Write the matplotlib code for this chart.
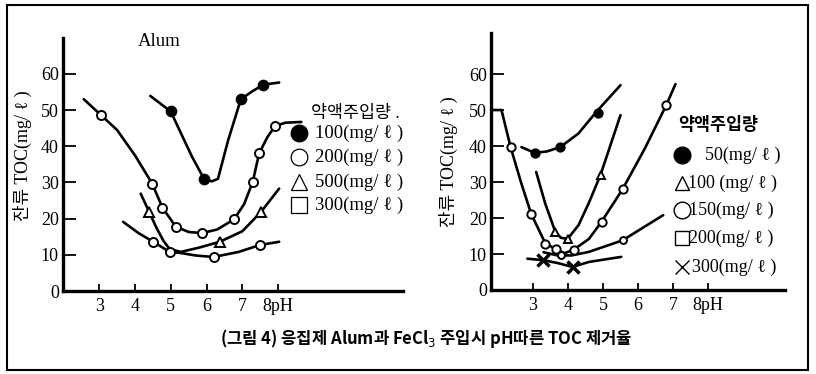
import matplotlib
matplotlib.use("Agg")
import matplotlib.pyplot as plt
from matplotlib.lines import Line2D
from matplotlib.patches import Rectangle

plt.rcParams['font.family'] = ['Liberation Serif', 'Noto Sans CJK KR', 'DejaVu Sans']

# ---------------- data: Alum ----------------
alum_100_line_ph = [4.43, 5.0, 5.28, 5.6, 5.93, 6.15, 6.32, 6.6, 6.96, 7.3, 7.59, 8.03]
alum_100_line_toc = [53.9, 49.6, 43.7, 37.0, 31.0, 30.3, 31.0, 41.5, 53.0, 55.3, 57.0, 57.6]
alum_100_pts_ph = [5.0, 5.93, 6.96, 7.59]
alum_100_pts_toc = [49.6, 31.0, 53.0, 57.0]

alum_200_line_ph = [2.57, 3.04, 3.5, 4.0, 4.48, 4.77, 5.14, 5.5, 5.88, 6.3, 6.77, 7.05, 7.29, 7.47, 7.7, 7.91, 8.2, 8.65]
alum_200_line_toc = [53.0, 48.7, 44.5, 37.5, 29.7, 23.0, 17.8, 16.3, 16.0, 17.0, 19.8, 24.0, 30.1, 38.0, 42.5, 45.5, 46.5, 46.7]
alum_200_pts_ph = [3.04, 4.48, 4.77, 5.14, 5.88, 6.77, 7.29, 7.47, 7.91]
alum_200_pts_toc = [48.7, 29.7, 23.0, 17.8, 16.0, 19.8, 30.1, 38.0, 45.5]

alum_500_line_ph = [4.16, 4.40, 4.6, 4.8, 4.97, 5.28, 5.8, 6.37, 7.0, 7.51, 8.03]
alum_500_line_toc = [26.9, 21.8, 17.5, 13.8, 11.6, 10.8, 12.0, 13.6, 16.5, 21.7, 28.3]
alum_500_pts_ph = [4.40, 6.37, 7.51]
alum_500_pts_toc = [21.8, 13.6, 21.7]

alum_300_line_ph = [3.67, 4.1, 4.51, 4.97, 5.28, 5.7, 6.2, 6.9, 7.49, 8.03]
alum_300_line_toc = [19.1, 16.0, 13.6, 10.8, 10.5, 9.8, 9.4, 10.8, 12.7, 13.6]
alum_300_pts_ph = [4.51, 4.97, 6.2, 7.49]
alum_300_pts_toc = [13.6, 10.8, 9.4, 12.7]

# ---------------- data: FeCl3 ----------------
fe_50_line_ph = [2.67, 3.05, 3.4, 3.78, 4.3, 4.81, 5.5]
fe_50_line_toc = [39.7, 38.1, 38.5, 39.7, 43.5, 49.5, 56.9]
fe_50_pts_ph = [3.05, 3.78, 4.85]
fe_50_pts_toc = [38.1, 39.7, 49.2]

fe_100_line_ph = [3.09, 3.35, 3.64, 3.8, 3.99, 4.3, 4.6, 4.93, 5.5]
fe_100_line_toc = [32.8, 24.0, 16.1, 14.5, 14.2, 18.0, 24.3, 32.0, 48.6]
fe_100_pts_ph = [3.64, 3.99, 4.93]
fe_100_pts_toc = [16.1, 14.2, 32.0]

fe_150_line_ph = [1.82, 2.1, 2.36, 2.67, 2.95, 3.35, 3.66, 3.9, 4.16, 4.6, 4.96, 5.56, 6.2, 6.81, 7.07]
fe_150_line_toc = [50.0, 50.0, 39.7, 29.5, 21.1, 13.0, 11.3, 10.2, 11.2, 14.2, 19.0, 28.0, 39.4, 51.4, 57.2]
fe_150_pts_ph = [2.36, 2.95, 3.35, 3.66, 4.16, 4.96, 5.56, 6.81]
fe_150_pts_toc = [39.7, 21.1, 12.8, 11.5, 11.2, 19.0, 28.0, 51.4]

fe_200_line_ph = [3.3, 3.7, 4.1, 4.6, 5.56, 6.72]
fe_200_line_toc = [10.5, 9.6, 9.6, 10.6, 13.8, 20.8]
fe_200_pts_ph = [3.8, 5.56]
fe_200_pts_toc = [9.6, 13.8]

fe_300_line_ph = [2.84, 3.28, 3.7, 4.13, 4.6, 5.52]
fe_300_line_toc = [8.7, 8.3, 7.5, 6.4, 7.8, 9.2]
fe_300_pts_ph = [3.28, 4.13]
fe_300_pts_toc = [8.3, 6.4]

y_ticks = [0, 10, 20, 30, 40, 50, 60]
x_ticks = [3, 4, 5, 6, 7, 8]
x_ticklabels = ['3', '4', '5', '6', '7', '8pH']
ylabel = '잔류 TOC(mg/ ℓ )'
alum_legend = ['100(mg/ ℓ )', '200(mg/ ℓ )', '500(mg/ ℓ )', '300(mg/ ℓ )']
fe_legend = ['50(mg/ ℓ )', '100 (mg/ ℓ )', '150(mg/ ℓ )', '200(mg/ ℓ )', '300(mg/ ℓ )']
caption = '(그림 4) 응집제 Alum과 FeCl$_3$ 주입시 pH따른 TOC 제거율'

W, H = 816, 374
fig = plt.figure(figsize=(W / 100, H / 100), dpi=100)

def fx(px):
    return px / W

def fy(py):
    return 1 - py / H

LW = 1.9
MS = 6.5

def style_axes(ax, xlim, ylim):
    ax.set_xlim(*xlim)
    ax.set_ylim(*ylim)
    for s in ['top', 'right']:
        ax.spines[s].set_visible(False)
    for s in ['left', 'bottom']:
        ax.spines[s].set_linewidth(2.4)
    ax.set_yticks(y_ticks)
    ax.set_yticklabels([str(v) for v in y_ticks])
    ax.set_xticks(x_ticks)
    ax.set_xticklabels(x_ticklabels)
    ax.tick_params(axis='y', direction='in', length=9, width=1.3, labelsize=13, pad=3)
    ax.tick_params(axis='x', direction='in', length=5, width=1.3, labelsize=13, pad=5)
    ax.patch.set_alpha(0)

def series(ax, lx, ly, px, py, marker, fill, ms=MS, mew=1.4):
    ax.plot(lx, ly, color='black', lw=LW, solid_capstyle='round',
            solid_joinstyle='round', zorder=2)
    ax.plot(px, py, linestyle='none', marker=marker, ms=ms,
            mfc='black' if fill else 'white', mec='black', mew=mew, zorder=3)

# ---------- Left: Alum ----------
axL = fig.add_axes([fx(63), fy(291), fx(403) - fx(63), fy(38) - fy(291)])
style_axes(axL, (1.99, 11.49), (0, 69.9))
series(axL, alum_100_line_ph, alum_100_line_toc, alum_100_pts_ph, alum_100_pts_toc, 'o', True, ms=7)
series(axL, alum_200_line_ph, alum_200_line_toc, alum_200_pts_ph, alum_200_pts_toc, 'o', False)
series(axL, alum_500_line_ph, alum_500_line_toc, alum_500_pts_ph, alum_500_pts_toc, '^', False, ms=7)
series(axL, alum_300_line_ph, alum_300_line_toc, alum_300_pts_ph, alum_300_pts_toc, 'o', False)

# ---------- Right: FeCl3 ----------
axR = fig.add_axes([fx(491), fy(290), fx(785) - fx(491), fy(33) - fy(290)])
style_axes(axR, (1.8, 10.2), (0, 71.4))
series(axR, fe_50_line_ph, fe_50_line_toc, fe_50_pts_ph, fe_50_pts_toc, 'o', True, ms=6)
series(axR, fe_100_line_ph, fe_100_line_toc, fe_100_pts_ph, fe_100_pts_toc, '^', False, ms=6)
series(axR, fe_150_line_ph, fe_150_line_toc, fe_150_pts_ph, fe_150_pts_toc, 'o', False, ms=6)
series(axR, fe_200_line_ph, fe_200_line_toc, fe_200_pts_ph, fe_200_pts_toc, 'o', False, ms=5)
series(axR, fe_300_line_ph, fe_300_line_toc, fe_300_pts_ph, fe_300_pts_toc, 'x', True, ms=8, mew=2.5)

# ---------- text ----------
fig.text(fx(138), fy(42), 'Alum', fontsize=13.5, ha='left', va='center')
fig.text(fx(22), fy(156), ylabel, rotation=90, fontsize=13, ha='center', va='center')
fig.text(fx(448), fy(162), ylabel, rotation=90, fontsize=13, ha='center', va='center')

# left legend
fig.text(fx(311), fy(114), '약액주입량 .', fontsize=12.5, ha='left', va='center')
legL_markers = [('o', True), ('o', False), ('^', False), ('s', False)]
legL_y = [133, 157, 182, 205]
for (m, fill), yy, lab in zip(legL_markers, legL_y, alum_legend):
    fig.add_artist(Line2D([fx(299)], [fy(yy)], marker=m, ms=12 if m == 'o' else 11,
                          mfc='black' if fill else 'white', mec='black', mew=0.9,
                          linestyle='none'))
    fig.text(fx(315), fy(yy), lab, fontsize=13.5, ha='left', va='center')

# right legend
fig.text(fx(678), fy(125), '약액주입량', fontsize=12.5, fontweight='bold', ha='left', va='center')
legR_markers = [('o', True), ('^', False), ('o', False), ('s', False), ('x', False)]
legR_y = [155, 183, 210, 238, 267]
legR_x = [705, 688, 689, 689, 692]
for (m, fill), yy, xx, lab in zip(legR_markers, legR_y, legR_x, fe_legend):
    fig.add_artist(Line2D([fx(682)], [fy(yy)], marker=m, ms=12 if m == 'o' else 10,
                          mfc='black' if fill else 'white', mec='black',
                          mew=1.0, linestyle='none'))
    fig.text(fx(xx), fy(yy), lab, fontsize=13, ha='left', va='center')

fig.text(fx(426), fy(339), caption, fontsize=12, fontweight='bold',
         family=['Noto Sans CJK KR', 'DejaVu Sans'], ha='center', va='center')

# frame
fig.add_artist(Rectangle((fx(7), fy(370)), fx(808) - fx(7), fy(5) - fy(370),
                         fill=False, lw=1.5, ec='black', transform=fig.transFigure))

fig.savefig('out.png', dpi=100, facecolor='white')
